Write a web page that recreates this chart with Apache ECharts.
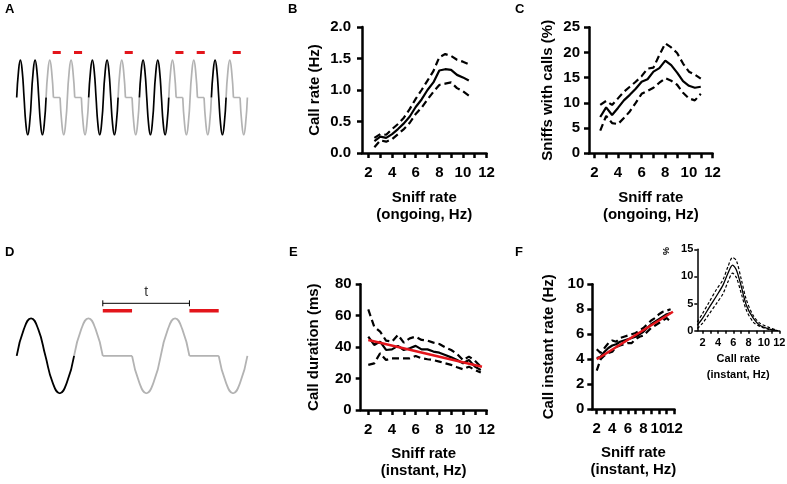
<!DOCTYPE html>
<html>
<head>
<meta charset="utf-8">
<script src="https://cdn.jsdelivr.net/npm/echarts@6/dist/echarts.min.js"></script>
<style>
  html, body { margin: 0; padding: 0; background: #fff; }
  #chart { width: 787px; height: 484px; }
</style>
</head>
<body>
<div id="chart"></div>
<script>
  // sniff schematics (A, D): one sniff cycle sampled every 1/8 cycle
  var sniffShape = [0, 0.71, 1, 0.71, 0, -0.71, -1, -0.71, 0]
  // b = sniff without call, g = sniff with a pause (call) after inhalation
  var sniffsA = ['b', 'b', 'g', 'g', 'b', 'b', 'g', 'b', 'b', 'g', 'g', 'b', 'g']
  var pauseA = 0.45
  var sniffsD = ['b', 'g', 'g']
  var pauseD = 0.51

  // B: call rate vs ongoing sniff rate
  var bRate = [2.5, 3, 3.5, 4, 4.5, 5, 5.5, 6, 6.5, 7, 7.5, 8, 8.5, 9, 9.5, 10, 10.5]
  var bMean = [0.19, 0.26, 0.24, 0.3, 0.38, 0.47, 0.58, 0.73, 0.85, 1.0, 1.12, 1.31, 1.33, 1.32, 1.24, 1.2, 1.15]
  var bUpper = [0.24, 0.3, 0.29, 0.38, 0.46, 0.56, 0.7, 0.86, 1.0, 1.15, 1.3, 1.52, 1.57, 1.54, 1.48, 1.45, 1.41]
  var bLower = [0.09, 0.2, 0.18, 0.22, 0.3, 0.38, 0.48, 0.62, 0.72, 0.85, 0.97, 1.08, 1.1, 1.12, 1.03, 0.98, 0.91]

  // C: sniffs with calls vs ongoing sniff rate
  var cRate = [2.5, 3, 3.5, 4, 4.5, 5, 5.5, 6, 6.5, 7, 7.5, 8, 8.5, 9, 9.5, 10, 10.5, 11]
  var cMean = [7.2, 9.1, 7.6, 9.0, 10.5, 11.6, 12.8, 14.2, 14.7, 16.2, 16.9, 18.4, 17.5, 16.0, 14.3, 13.4, 13.0, 13.2]
  var cUpper = [9.6, 10.4, 9.6, 10.9, 12.2, 13.2, 14.2, 15.3, 16.8, 17.0, 19.5, 21.8, 21.0, 19.9, 17.8, 16.2, 15.6, 14.8]
  var cLower = [4.5, 7.4, 6.0, 5.8, 7.0, 8.3, 10.0, 11.8, 12.4, 13.0, 14.0, 14.9, 14.4, 13.6, 12.0, 10.9, 10.5, 11.8]

  // E: call duration vs instant sniff rate
  var eRate = [2, 2.5, 3, 3.5, 4, 4.5, 5, 5.5, 6, 6.5, 7, 7.5, 8, 8.5, 9, 9.5, 10, 10.5, 11, 11.5]
  var eMean = [46.7, 41.4, 43.5, 38.2, 38.6, 40.8, 38.2, 39.3, 40.8, 38.6, 38.6, 37.2, 36.5, 35, 33.5, 31.8, 29.7, 31.8, 27.6, 25.5]
  var eUpper = [64, 53, 49.9, 44.2, 43.5, 47.8, 42.9, 45.6, 46.7, 44.6, 44.2, 42.9, 42, 39.9, 38.2, 35.7, 31.8, 34, 31.4, 27.6]
  var eLower = [28.7, 29.7, 36.1, 31.8, 32.9, 32.9, 32.9, 32.9, 34.4, 32.9, 32.3, 31.8, 30.8, 29.7, 28.7, 27.2, 25.9, 27.6, 25.5, 23.8]
  var eFitRate = [2, 11.6]
  var eFit = [44.5, 27.5]

  // F: call instant rate vs instant sniff rate
  var fRate = [2, 2.5, 3, 3.5, 4, 4.5, 5, 5.5, 6, 6.5, 7, 7.5, 8, 8.5, 9, 9.5, 10, 10.5, 11, 11.5]
  var fMean = [4.1, 4.2, 4.6, 4.9, 5.1, 5.2, 5.4, 5.5, 5.6, 5.7, 5.8, 6.0, 6.2, 6.5, 6.8, 7.0, 7.2, 7.4, 7.6, 7.7]
  var fUpper = [4.8, 4.5, 4.9, 5.3, 5.5, 5.4, 5.7, 5.8, 5.9, 6.0, 6.1, 6.3, 6.5, 6.8, 7.1, 7.3, 7.6, 7.8, 7.9, 8.0]
  var fLower = [3.1, 4.0, 4.3, 4.5, 4.6, 5.0, 5.1, 5.2, 5.3, 5.3, 5.6, 5.8, 5.9, 6.2, 6.5, 6.7, 6.9, 7.1, 7.3, 7.0]
  var fFitRate = [2, 11.8]
  var fFit = [4.0, 7.8]

  // F inset: distribution of call instant rate (%)
  var insetRate = [1.3, 2.0, 2.9, 3.8, 4.65, 5.3, 5.9, 6.4, 7.05, 7.7, 8.6, 9.45, 10.5, 11.8]
  var insetMean = [1.0, 2.3, 4.4, 6.4, 8.4, 10.6, 12.1, 11.2, 8.1, 4.7, 2.3, 1.0, 0.4, 0]
  var insetUpper = [1.6, 3.2, 5.4, 7.6, 9.4, 11.8, 13.5, 12.9, 9.4, 5.7, 2.8, 1.4, 0.7, 0]
  var insetLower = [0.4, 1.4, 3.2, 5.0, 6.8, 9.0, 10.6, 9.8, 6.8, 3.8, 1.6, 0.8, 0.3, 0]

  var xTicks = [2, 3, 4, 5, 6, 7, 8, 9, 10, 11, 12]
  var xTickLabels = [2, 4, 6, 8, 10, 12]

  var font = '"Liberation Sans", Arial, Helvetica, sans-serif'
  var gap = '-'

  function pairs (xs, ys) {
    return xs.map(function (x, i) { return [x, ys[i]] })
  }

  // lay the sniff sequence out along the time axis
  function buildTrace (seq, pause) {
    var black = []
    var gray = []
    var calls = []
    var t = 0
    seq.forEach(function (s) {
      var i
      if (s === 'b') {
        for (i = 0; i < 9; i++) black.push([t + i / 8, sniffShape[i]])
        black.push([t + 1, gap])
        t += 1
      } else {
        for (i = 0; i < 5; i++) gray.push([t + i / 8, sniffShape[i]])
        gray.push([t + 0.5, gap])
        gray.push([t + 0.5, 0], [t + 0.5 + pause, 0], [t + 0.5 + pause, gap])
        for (i = 4; i < 9; i++) gray.push([t + pause + i / 8, sniffShape[i]])
        gray.push([t + 1 + pause, gap])
        calls.push([t + 0.5, t + 0.5 + pause])
        t += 1 + pause
      }
    })
    return { black: black, gray: gray, calls: calls, end: t }
  }

  function callBars (calls, level, ext) {
    var d = []
    calls.forEach(function (c) {
      d.push([c[0] - ext, level], [c[1] + ext, level], [c[1] + ext, gap])
    })
    return d
  }

  var traceA = buildTrace(sniffsA, pauseA)
  var traceD = buildTrace(sniffsD, pauseD)

  function hiddenAxis (gi, min, max) {
    return { type: 'value', gridIndex: gi, min: min, max: max, show: false }
  }

  function xAx (gi, min, o) {
    return {
      type: 'value', gridIndex: gi, position: 'bottom', min: min, max: 12,
      name: o.name, nameLocation: 'middle', nameGap: o.nameGap,
      nameTextStyle: { fontFamily: font, fontWeight: 'bold', fontSize: o.size, lineHeight: o.lineHeight, color: '#000' },
      axisLine: { show: true, onZero: false, lineStyle: { color: '#000', width: o.lw } },
      axisTick: { show: true, customValues: xTicks, length: o.tick, lineStyle: { color: '#000', width: o.lw } },
      axisLabel: {
        customValues: o.labels || xTickLabels, margin: o.margin, hideOverlap: false,
        fontFamily: font, fontWeight: 'bold', fontSize: o.size, color: '#000'
      },
      splitLine: { show: false }
    }
  }

  // label-only axis laid over another one (F: "10" and "12" touch)
  function labelOnlyX (gi, min, labels, o) {
    return {
      type: 'value', gridIndex: gi, position: 'bottom', offset: 0, min: min, max: 12,
      axisLine: { show: false, onZero: false }, axisTick: { show: false }, splitLine: { show: false },
      axisLabel: { customValues: labels, margin: o.margin, fontFamily: font, fontWeight: 'bold', fontSize: o.size, color: '#000' }
    }
  }

  function yAx (gi, max, interval, o) {
    return {
      type: 'value', gridIndex: gi, min: 0, max: max, interval: interval,
      name: o.name, nameLocation: 'middle', nameGap: o.nameGap,
      nameTextStyle: { fontFamily: font, fontWeight: 'bold', fontSize: o.size, color: '#000' },
      axisLine: { show: true, onZero: false, lineStyle: { color: '#000', width: o.lw } },
      axisTick: { show: true, length: o.tick, lineStyle: { color: '#000', width: o.lw } },
      axisLabel: { margin: o.margin, fontFamily: font, fontWeight: 'bold', fontSize: o.size, color: '#000', formatter: o.formatter },
      splitLine: { show: false }
    }
  }

  function line (gi, data, o) {
    return {
      type: 'line', xAxisIndex: gi, yAxisIndex: gi, data: data,
      symbol: 'none', smooth: o.smooth || false, silent: true,
      lineStyle: { color: o.color || '#000', width: o.width || 2.2, type: o.dash || 'solid', cap: 'butt' },
      z: o.z || 2
    }
  }

  var dash = [7, 4]
  var red = '#e3151b'
  var waveGray = '#b3b3b3'

  var grids = [
    { left: 16.7, top: 48.75, width: 230.7, height: 86.25 },   // A
    { left: 362, top: 27, width: 124.5, height: 126 },         // B
    { left: 589, top: 27.3, width: 123.6, height: 126 },       // C
    { left: 16.7, top: 288.3, width: 230.7, height: 105 },     // D
    { left: 360.7, top: 284.3, width: 126, height: 125.7 },    // E
    { left: 592.3, top: 284.3, width: 82.2, height: 125 },     // F
    { left: 697.3, top: 249.3, width: 82, height: 81.4 }       // F inset
  ].map(function (g) {
    g.containLabel = false
    g.outerBoundsMode = 'none'
    return g
  })

  var big = { size: 15, lineHeight: 17, lw: 2.5, tick: 5 }
  function withBig (o) { return Object.assign({}, big, o) }

  var chart = echarts.init(document.getElementById('chart'), null, { renderer: 'canvas' })
  chart.setOption({
    animation: false,
    backgroundColor: '#fff',
    title: [
      ['A', 5, 3], ['B', 288, 3], ['C', 515, 3],
      ['D', 5, 246], ['E', 289, 246], ['F', 515, 246]
    ].map(function (t) {
      return { text: t[0], left: t[1], top: t[2], padding: 0, textStyle: { fontFamily: font, fontWeight: 'bold', fontSize: 13, color: '#000' } }
    }),
    graphic: [{
      type: 'text', x: 667, y: 251, rotation: Math.PI / 2,
      style: { text: '%', fontFamily: font, fontWeight: 'bold', fontSize: 9, fill: '#000', align: 'center', verticalAlign: 'middle' }
    }],
    grid: grids,
    xAxis: [
      hiddenAxis(0, 0, traceA.end),
      xAx(1, 1.45, withBig({ name: 'Sniff rate\n(ongoing, Hz)', nameGap: 36, margin: 12 })),
      xAx(2, 1.55, withBig({ name: 'Sniff rate\n(ongoing, Hz)', nameGap: 36, margin: 12 })),
      hiddenAxis(3, 0, traceD.end),
      xAx(4, 1.36, withBig({ name: 'Sniff rate\n(instant, Hz)', nameGap: 35, margin: 12 })),
      xAx(5, 1.43, withBig({ name: 'Sniff rate\n(instant, Hz)', nameGap: 35.5, margin: 12, labels: [2, 4, 6, 8, 10] })),
      xAx(6, 1.3, { name: 'Call rate\n(instant, Hz)', nameGap: 20, margin: 7, size: 11, lineHeight: 16, lw: 1.5, tick: 3 }),
      labelOnlyX(5, 1.43, [12], withBig({ margin: 12 }))
    ],
    yAxis: [
      hiddenAxis(0, -1, 1.3),
      yAx(1, 2, 0.5, withBig({ name: 'Call rate (Hz)', nameGap: 40, margin: 11, formatter: function (v) { return v.toFixed(1) } })),
      yAx(2, 25, 5, withBig({ name: 'Sniffs with calls (%)', nameGap: 34, margin: 9 })),
      hiddenAxis(3, -1, 1.8),
      yAx(4, 80, 20, withBig({ name: 'Call duration (ms)', nameGap: 39, margin: 9 })),
      yAx(5, 10, 2, withBig({ name: 'Call instant rate (Hz)', nameGap: 36, margin: 8 })),
      yAx(6, 15, 5, { name: '', nameGap: 0, margin: 4, size: 11, lw: 1.5, tick: 3 })
    ],
    series: [
      // A
      line(0, traceA.gray, { color: waveGray, width: 1.7, smooth: 0.5 }),
      line(0, traceA.black, { color: '#000', width: 1.7, smooth: 0.5 }),
      line(0, callBars(traceA.calls, 1.2, 0.05), { color: red, width: 3 }),
      // B
      line(1, pairs(bRate, bUpper), { dash: dash }),
      line(1, pairs(bRate, bLower), { dash: dash }),
      line(1, pairs(bRate, bMean), {}),
      // C
      line(2, pairs(cRate, cUpper), { dash: dash }),
      line(2, pairs(cRate, cLower), { dash: dash }),
      line(2, pairs(cRate, cMean), {}),
      // D
      line(3, traceD.gray, { color: waveGray, width: 1.8, smooth: 0.5 }),
      line(3, traceD.black, { color: '#000', width: 1.8, smooth: 0.5 }),
      line(3, callBars(traceD.calls, 1.2, 0), { color: red, width: 3.5 }),
      line(3, [[traceD.calls[0][0], 1.4], [traceD.calls[1][0], 1.4]], { width: 1 }),
      line(3, [[traceD.calls[0][0], 1.32], [traceD.calls[0][0], 1.48], [traceD.calls[0][0], gap],
        [traceD.calls[1][0], 1.32], [traceD.calls[1][0], 1.48]], { width: 1 }),
      {
        type: 'scatter', xAxisIndex: 3, yAxisIndex: 3, silent: true, symbolSize: 0,
        data: [[(traceD.calls[0][0] + traceD.calls[1][0]) / 2, 1.71]],
        label: { show: true, position: 'inside', formatter: 't', fontFamily: font, fontSize: 14, color: '#000' }
      },
      // E
      line(4, pairs(eRate, eUpper), { dash: dash }),
      line(4, pairs(eRate, eLower), { dash: dash }),
      line(4, pairs(eRate, eMean), {}),
      line(4, pairs(eFitRate, eFit), { color: red, width: 2.5, z: 3 }),
      // F
      line(5, pairs(fRate, fUpper), { dash: dash }),
      line(5, pairs(fRate, fLower), { dash: dash }),
      line(5, pairs(fRate, fMean), {}),
      line(5, pairs(fFitRate, fFit), { color: red, width: 2.5, z: 3 }),
      // F inset
      line(6, pairs(insetRate, insetUpper), { dash: [3, 2], width: 1.2, smooth: 0.3 }),
      line(6, pairs(insetRate, insetLower), { dash: [3, 2], width: 1.2, smooth: 0.3 }),
      line(6, pairs(insetRate, insetMean), { width: 1.3, smooth: 0.3 })
    ]
  })
</script>
</body>
</html>
